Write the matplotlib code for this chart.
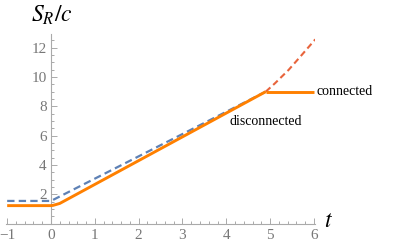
import matplotlib
matplotlib.use('Agg')
import matplotlib.pyplot as plt
from matplotlib.ticker import MultipleLocator

plt.rcParams['mathtext.fontset'] = 'stix'
plt.rcParams['font.family'] = ['Liberation Serif', 'DejaVu Serif']

# disconnected surface (solid orange, lower branch)
t_disc = [-1.0, 0.0, 0.05, 0.12, 0.2, 4.9]
s_disc = [1.22, 1.22, 1.24, 1.30, 1.37, 9.0]
# connected surface plateau
t_conn = [4.9, 6.0]
s_conn = [9.0, 9.0]
# upper dashed reference line
t_blue = [-1.0, 0.0, 4.9]
s_blue = [1.54, 1.54, 9.0]
# continuation of disconnected branch past the transition
t_red = [4.9, 5.11, 5.42, 5.72, 6.03]
s_red = [9.0, 9.57, 10.48, 11.5, 12.57]

xticks = [-1, 0, 1, 2, 3, 4, 5, 6]
yticks = [2, 4, 6, 8, 10, 12]

W, H = 400, 245
fig = plt.figure(figsize=(W / 100, H / 100), dpi=100)

# place axes so that t=0 -> x=51px, 43.8 px per unit; S=0 -> y=223.5px, 14.65 px per unit
xlim = (-1.02, 6.02)
ylim = (0, 12.95)
px_x, px_y = 43.83, 14.65
left = 51 + xlim[0] * px_x
bottom = H - 223.5
ax = fig.add_axes([left / W, bottom / H,
                   (xlim[1] - xlim[0]) * px_x / W, (ylim[1] - ylim[0]) * px_y / H])
ax.set_xlim(xlim)
ax.set_ylim(ylim)
ax.patch.set_alpha(0)

blue = '#5E81B5'
orange = '#FF8000'
red = '#E8643C'

ax.plot(t_blue, s_blue, color=blue, lw=1.6, dashes=(3.3, 1.9), zorder=2)
ax.plot(t_red, s_red, color=red, lw=1.5, dashes=(3.0, 1.8), zorder=2)
ax.plot(t_disc, s_disc, color=orange, lw=2.1, solid_capstyle='butt', zorder=3)
ax.plot(t_conn, s_conn, color=orange, lw=2.1, solid_capstyle='butt', zorder=3)

ax.text(6.05, 9.0, 'connected', fontsize=10, va='center', ha='left')
ax.text(4.9, 6.95, 'disconnected', fontsize=10, va='center', ha='center')

# mathematica-like axes
for s in ('top', 'right'):
    ax.spines[s].set_visible(False)
ax.spines['left'].set_position(('data', 0))
axis_col = '#AAAAAA'
for s in ('left', 'bottom'):
    ax.spines[s].set_color(axis_col)
    ax.spines[s].set_linewidth(0.8)

ax.set_xticks(xticks)
ax.set_xticklabels(['\u22121' if v < 0 else str(v) for v in xticks])
ax.set_yticks(yticks)
ax.xaxis.set_minor_locator(MultipleLocator(0.2))
ax.yaxis.set_minor_locator(MultipleLocator(0.5))
ax.tick_params(which='both', direction='in', color=axis_col, width=0.7,
               labelcolor='#777777', labelsize=11)
ax.tick_params(which='major', length=4)
ax.tick_params(which='minor', length=2)
ax.tick_params(axis='x', pad=4)
ax.tick_params(axis='y', pad=3)

fig.text(52 / W, 1 - 15 / H, r'$S_R/c$', fontsize=17, ha='center', va='center')
fig.text(328 / W, 1 - 221 / H, r'$t$', fontsize=17, ha='center', va='center')

fig.savefig('out.png', dpi=100)
